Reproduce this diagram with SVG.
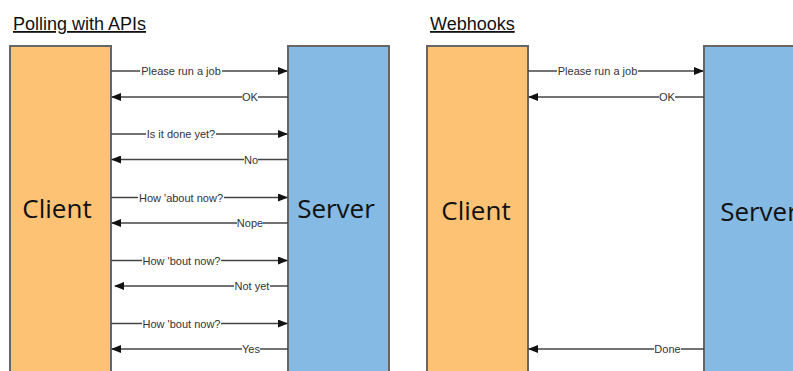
<svg xmlns="http://www.w3.org/2000/svg" width="793" height="371" viewBox="0 0 793 371">
<defs>
<marker id="ah" markerWidth="10" markerHeight="8" refX="9" refY="4" orient="auto" markerUnits="userSpaceOnUse">
<path d="M0,0 L10,4 L0,8 z" fill="#111"/>
</marker>
<style>
.client{fill:#FDC273;stroke:#666;stroke-width:2}
.server{fill:#84BAE3;stroke:#666;stroke-width:2}
.big{font-family:"Open Sans","Noto Sans",sans-serif;font-size:26px;fill:#111;text-anchor:middle}
.title{font-family:"Liberation Sans",Arial,sans-serif;font-size:18px;fill:#111;text-decoration:underline}
.conn line{stroke:#444;stroke-width:1.5;marker-end:url(#ah)}
.bg{fill:#fff}
.lbl{font-family:"Liberation Sans",Arial,sans-serif;font-size:11px;fill:#333;text-anchor:middle}
</style>
</defs>
<rect width="793" height="371" fill="#fff"/>
<text class="title" x="13" y="30">Polling with APIs</text>
<text class="title" x="430" y="30">Webhooks</text>
<g id="client1"><rect class="client" x="10" y="46" width="101" height="340"/><text class="big" x="57" y="218">Client</text></g>
<g id="server1"><rect class="server" x="288" y="46" width="101" height="340"/><text class="big" x="336" y="218">Server</text></g>
<g id="client2"><rect class="client" x="427" y="46" width="101" height="340"/><text class="big" x="476" y="220">Client</text></g>
<g id="server2"><rect class="server" x="704" y="46" width="101" height="340"/><text class="big" x="759" y="221">Server</text></g>
<g id="connectors" class="conn">
<line x1="111" y1="71" x2="287" y2="71"/>
<line x1="288" y1="97" x2="112" y2="97"/>
<line x1="111" y1="134" x2="287" y2="134"/>
<line x1="288" y1="159.5" x2="112" y2="159.5"/>
<line x1="111" y1="197.5" x2="287" y2="197.5"/>
<line x1="288" y1="223" x2="112" y2="223"/>
<line x1="111" y1="260.5" x2="287" y2="260.5"/>
<line x1="288" y1="286" x2="115" y2="286"/>
<line x1="111" y1="323.5" x2="287" y2="323.5"/>
<line x1="288" y1="349" x2="112" y2="349"/>
<line x1="528" y1="71" x2="703" y2="71"/>
<line x1="704" y1="97" x2="529" y2="97"/>
<line x1="704" y1="349" x2="529" y2="349"/>
</g>
<g id="labels">
<rect class="bg" x="140" y="65" width="82" height="12"/><text class="lbl" x="181" y="75">Please run a job</text>
<rect class="bg" x="242" y="91" width="16" height="12"/><text class="lbl" x="250" y="101">OK</text>
<rect class="bg" x="146" y="128" width="70" height="12"/><text class="lbl" x="181" y="138">Is it done yet?</text>
<rect class="bg" x="244" y="153.5" width="14" height="12"/><text class="lbl" x="251" y="163.5">No</text>
<rect class="bg" x="138" y="191.5" width="86" height="12"/><text class="lbl" x="181" y="201.5">How 'about now?</text>
<rect class="bg" x="237" y="217" width="26" height="12"/><text class="lbl" x="250" y="227">Nope</text>
<rect class="bg" x="142" y="254.5" width="79" height="12"/><text class="lbl" x="181.5" y="264.5">How 'bout now?</text>
<rect class="bg" x="234" y="280" width="36" height="12"/><text class="lbl" x="252" y="290">Not yet</text>
<rect class="bg" x="142" y="317.5" width="79" height="12"/><text class="lbl" x="181.5" y="327.5">How 'bout now?</text>
<rect class="bg" x="242" y="343" width="18" height="12"/><text class="lbl" x="251" y="353">Yes</text>
<rect class="bg" x="557" y="65" width="81" height="12"/><text class="lbl" x="597.5" y="75">Please run a job</text>
<rect class="bg" x="659" y="91" width="16" height="12"/><text class="lbl" x="667" y="101">OK</text>
<rect class="bg" x="654" y="343" width="27" height="12"/><text class="lbl" x="667.5" y="353">Done</text>
</g>
</svg>
